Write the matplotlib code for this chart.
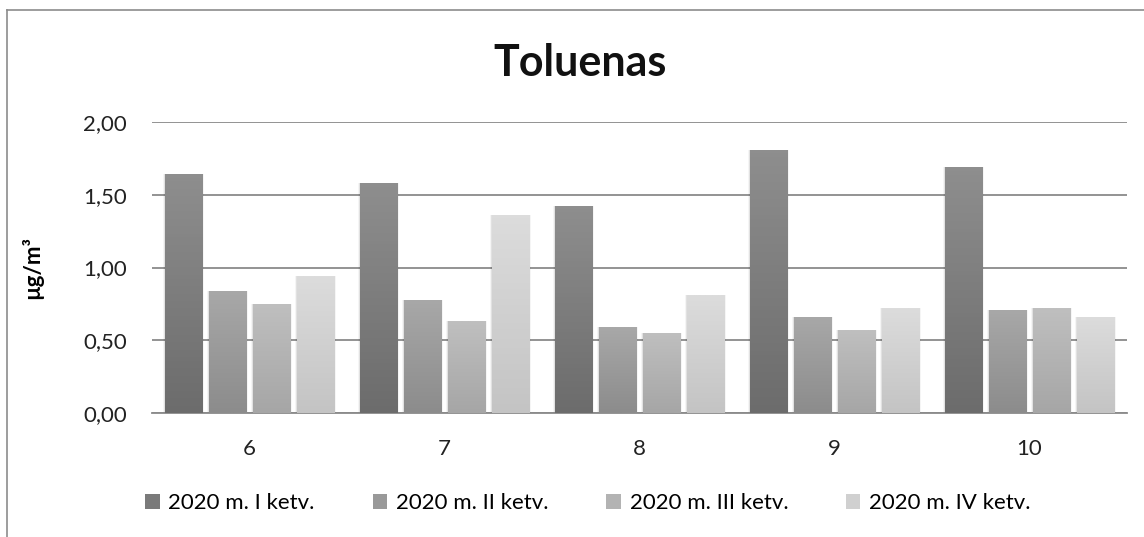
import matplotlib.pyplot as plt
import numpy as np
from matplotlib.lines import Line2D
from matplotlib.patches import Rectangle
from matplotlib.colors import LinearSegmentedColormap

plt.rcParams['font.family'] = ['Lato', 'DejaVu Sans']

# data
stations = ['6', '7', '8', '9', '10']
series = ['2020 m. I ketv.', '2020 m. II ketv.', '2020 m. III ketv.', '2020 m. IV ketv.']
q1 = [1.64, 1.58, 1.42, 1.81, 1.69]
q2 = [0.84, 0.78, 0.59, 0.66, 0.71]
q3 = [0.75, 0.63, 0.55, 0.57, 0.72]
q4 = [0.94, 1.36, 0.81, 0.72, 0.66]
values = [q1, q2, q3, q4]
yticks = [0.0, 0.5, 1.0, 1.5, 2.0]

# (top colour, bottom colour) of each series' gradient
grads = [('#8e8e8e', '#6c6c6c'), ('#a8a8a8', '#8c8c8c'),
         ('#bfbfbf', '#a6a6a6'), ('#dcdcdc', '#c4c4c4')]
legend_cols = ['#7a7a7a', '#999999', '#b3b3b3', '#d0d0d0']

fig = plt.figure(figsize=(11.44, 5.37), dpi=100)
ax = fig.add_axes([152 / 1144, 124 / 537, (1127 - 152) / 1144, (413 - 122) / 537])

# chart frame: only left and top edges visible in the crop
fig.add_artist(Line2D([7 / 1144, 7 / 1144], [0, 1 - 10 / 537], color='#8c8c8c', lw=1.2,
                      transform=fig.transFigure))
fig.add_artist(Line2D([7 / 1144, 1], [1 - 10 / 537, 1 - 10 / 537], color='#8c8c8c', lw=1.2,
                      transform=fig.transFigure))

x = np.arange(len(stations))
width = 0.19
step = 0.226
offsets = (np.arange(4) - 1.5) * step

for i, vals in enumerate(values):
    cmap = LinearSegmentedColormap.from_list('g%d' % i, [grads[i][1], grads[i][0]])
    for xi, v in zip(x, vals):
        left = xi + offsets[i] - width / 2
        # soft shadow on the sides
        for k, a in enumerate([0.08, 0.04]):
            d = 0.005 * (k + 1)
            ax.add_patch(Rectangle((left - d, 0), width + 2 * d, v,
                                   facecolor='#000000', alpha=a, lw=0, zorder=2))
        rect = Rectangle((left, 0), width, v, facecolor='none', lw=0, zorder=3)
        ax.add_patch(rect)
        grad = np.linspace(0, 1, 64).reshape(-1, 1)
        im = ax.imshow(grad, cmap=cmap, origin='lower', aspect='auto',
                       extent=(left, left + width, 0, v), zorder=3)
        im.set_clip_path(rect)

ax.set_xlim(-0.5, len(stations) - 0.5)
ax.set_ylim(0, 2.0)

ax.set_yticks(yticks)
ax.set_yticklabels([('%.2f' % t).replace('.', ',') for t in yticks])
ax.set_xticks(x)
ax.set_xticklabels(stations)
ax.yaxis.grid(True, color='#8a8a8a', lw=1.3)
ax.set_axisbelow(True)
for s in ['top', 'right', 'left']:
    ax.spines[s].set_visible(False)
ax.spines['bottom'].set_color('#8a8a8a')
ax.spines['bottom'].set_linewidth(1.3)
ax.tick_params(axis='y', length=0, pad=18, labelsize=16, labelcolor='#222222')
ax.tick_params(axis='x', length=0, pad=19, labelsize=16, labelcolor='#222222')

ax.set_ylabel('µg/m³', fontsize=16, fontweight='bold')
ax.yaxis.set_label_coords(-0.112, 0.5)

fig.text(580 / 1144, 1 - 63 / 537, 'Toluenas', fontsize=31, fontweight='bold',
         ha='center', va='center', color='#111111')

handles = [Rectangle((0, 0), 1, 1, facecolor=c, lw=0) for c in legend_cols]
fig.legend(handles, series, loc='center', bbox_to_anchor=(588 / 1144, 1 - 503 / 537),
           ncol=4, frameon=False, fontsize=16, handlelength=0.65, handleheight=0.65,
           handletextpad=0.4, columnspacing=2.6)

fig.savefig('out.png', dpi=100)
